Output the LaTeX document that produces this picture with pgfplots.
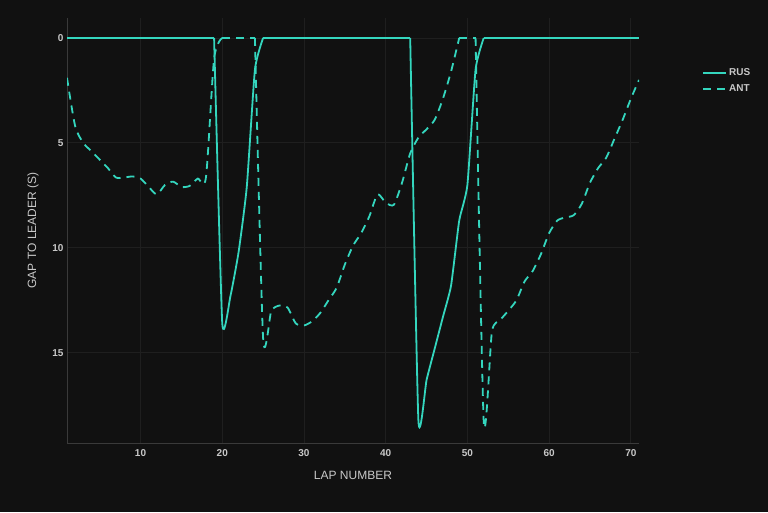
\documentclass[border=0pt]{standalone}
\usepackage{pgfplots}
\pgfplotsset{compat=1.18}
\usepackage{fontspec}
\setmainfont{Liberation Sans}
\definecolor{bg}{RGB}{17,17,17}
\definecolor{teal1}{RGB}{52,214,190}
\definecolor{gridc}{RGB}{31,31,31}
\definecolor{axc}{RGB}{58,58,58}
\definecolor{txt}{RGB}{200,200,200}
\pgfplotsset{
 rus/.style={teal1, line width=1.8pt},
 ant/.style={teal1, line width=1.8pt, dash pattern=on 8pt off 6pt},
}
\begin{document}
\begin{tikzpicture}[x=1pt,y=1pt]
\fill[bg] (0,0) rectangle (768,512);
\useasboundingbox (0,0) rectangle (768,512);
\begin{axis}[
 at={(67pt,69pt)}, anchor=south west,
 scale only axis, width=572pt, height=425pt,
 xmin=1, xmax=71, ymin=-0.95, ymax=19.3, y dir=reverse,
 xtick={10,20,...,70}, ytick={0,5,10,15},
 grid=major, major grid style={gridc, line width=0.8pt},
 axis line style={draw=none},
 major tick length=0pt,
 tick label style={font=\fontsize{10}{12}\selectfont\bfseries, text=txt},
 xticklabel style={yshift=-3pt},
 /pgf/number format/assume math mode=true,
 xlabel={LAP NUMBER}, ylabel={GAP TO LEADER (S)},
 every axis x label/.style={at={(axis description cs:0.5,0)}, anchor=center, yshift=-32pt, font=\fontsize{12}{14}\selectfont, text=txt},
 every axis y label/.style={at={(axis description cs:0,0.5)}, anchor=center, xshift=-34pt, rotate=90, font=\fontsize{12}{14}\selectfont, text=txt},
 legend style={at={(axis description cs:1.105,0.89)}, anchor=north west, draw=none, fill=none, text=txt, font=\fontsize{10}{12}\selectfont\bfseries, row sep=3pt},
 legend cell align=left,
 legend image code/.code={\draw[#1] (0pt,0pt) -- (23pt,0pt);},
]
\draw[axc, line width=1pt] (axis description cs:0,0) -- (axis description cs:1,0);
\draw[axc, line width=1pt] (axis description cs:0,0) -- (axis description cs:0,1);
% RUS
\addplot[rus] coordinates {
(1,0)(2,0)(3,0)(4,0)(5,0)(6,0)(7,0)(8,0)(9,0)(10,0)(11,0)(12,0)(13,0)(14,0)(15,0)(16,0)(17,0)(18,0)(19,0)
};
\addlegendentry{RUS}
\addplot[rus, smooth, tension=0.3, forget plot] coordinates {
(19,0)(20,13.6)(21,12.3)(22,10.2)(23,7.1)(24,1.5)(25,0)
};
\addplot[rus, forget plot] coordinates {
(25,0)(26,0)(27,0)(28,0)(29,0)(30,0)(31,0)(32,0)(33,0)(34,0)(35,0)(36,0)(37,0)(38,0)(39,0)(40,0)(41,0)(42,0)(43,0)
};
\addplot[rus, smooth, tension=0.3, forget plot] coordinates {
(43,0)(44,18.2)(45,16.3)(46,14.8)(47,13.3)(48,11.8)(49,8.7)(50,7.0)(51,1.5)(52,0)
};
\addplot[rus, forget plot] coordinates {
(52,0)(53,0)(54,0)(55,0)(56,0)(57,0)(58,0)(59,0)(60,0)(61,0)(62,0)(63,0)(64,0)(65,0)(66,0)(67,0)(68,0)(69,0)(70,0)(71,0)
};
% ANT
\addplot[ant, smooth, tension=0.45] coordinates {
(1,1.9)(2,4.2)(3,5.0)(4,5.4)(5,5.8)(6,6.2)(7,6.65)(8,6.65)(9,6.6)(10,6.7)(11,7.1)(12,7.45)(13,7.0)(14,6.85)(15,7.1)(16,7.05)(17,6.7)(18,6.65)(19,1.0)(20,0)
};
\addlegendentry{ANT}
\addplot[ant, forget plot] coordinates {
(20,0)(21,0)(22,0)(23,0)(24,0)
};
\addplot[ant, smooth, tension=0.4, forget plot] coordinates {
(24,0)(25,14.3)(26,13.0)(27,12.75)(28,12.85)(29,13.6)(30,13.7)(31,13.5)(32,13.1)(33,12.5)(34,11.9)(35,10.8)(36,9.9)(37,9.3)(38,8.5)(39,7.45)(40,7.85)(41,7.95)(42,6.9)(43,5.5)(44,4.75)(45,4.35)(46,3.9)(47,2.9)(48,1.6)(49,0)
};
\addplot[ant, forget plot] coordinates {
(49,0)(50,0)(51,0)
};
\addplot[ant, smooth, tension=0.4, forget plot] coordinates {
(51,0)(52,18.3)(53,14.0)(54,13.45)(55,13.0)(56,12.5)(57,11.6)(58,11.1)(59,10.3)(60,9.3)(61,8.7)(62,8.55)(63,8.45)(64,7.9)(65,6.9)(66,6.2)(67,5.7)(68,4.8)(69,3.9)(70,2.9)(71,2.0)
};
\end{axis}
\end{tikzpicture}
\end{document}
